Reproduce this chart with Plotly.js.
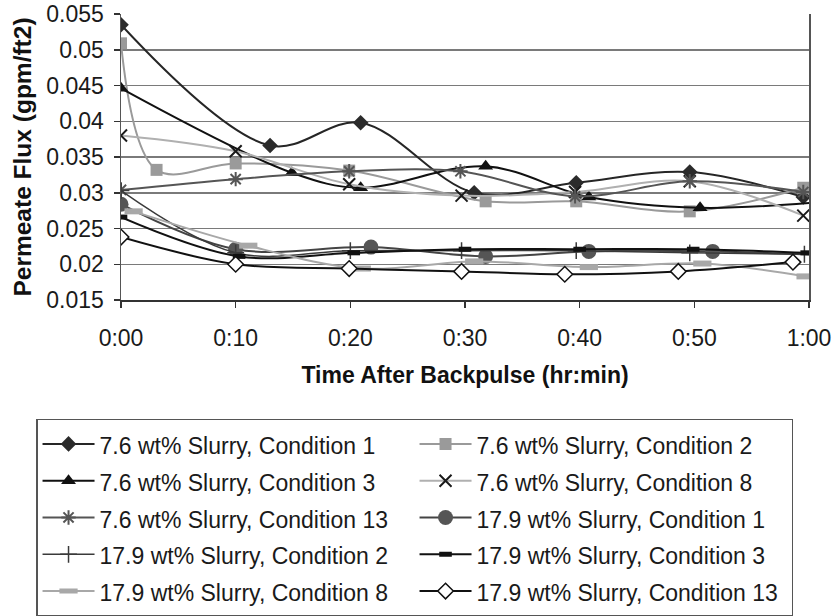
<!DOCTYPE html>
<html>
<head>
<meta charset="utf-8">
<script src="https://cdn.plot.ly/plotly-3.0.1.min.js"></script>
<style>html,body{margin:0;padding:0;background:#fff;}#chart{width:837px;height:616px;}</style>
</head>
<body>
<div id="chart"></div>
<script>
// ---- data (minutes after backpulse, flux gpm/ft2) ----
const xTickVals = [0, 10, 20, 30, 40, 50, 60];
const xTickText = ['0:00', '0:10', '0:20', '0:30', '0:40', '0:50', '1:00'];
const yTickVals = [0.015, 0.02, 0.025, 0.03, 0.035, 0.04, 0.045, 0.05, 0.055];
const yTickText = ['0.015', '0.02', '0.025', '0.03', '0.035', '0.04', '0.045', '0.05', '0.055'];

const names = [
  '7.6 wt% Slurry, Condition 1', '7.6 wt% Slurry, Condition 2',
  '7.6 wt% Slurry, Condition 3', '7.6 wt% Slurry, Condition 8',
  '7.6 wt% Slurry, Condition 13', '17.9 wt% Slurry, Condition 1',
  '17.9 wt% Slurry, Condition 2', '17.9 wt% Slurry, Condition 3',
  '17.9 wt% Slurry, Condition 8', '17.9 wt% Slurry, Condition 13'
];

const t76c1 = [0, 13.0, 20.9, 30.8, 39.7, 49.6, 59.5];
const v76c1 = [0.0535, 0.0366, 0.0398, 0.0300, 0.0314, 0.0329, 0.0294];

const t76c2 = [0, 3.1, 10.0, 19.9, 31.8, 39.7, 49.6, 59.5];
const v76c2 = [0.0509, 0.0332, 0.0341, 0.0331, 0.0288, 0.0288, 0.0274, 0.0307];

const t76c3 = [0, 14.9, 20.9, 31.8, 40.8, 50.5, 61.0];
const v76c3 = [0.0446, 0.0328, 0.0307, 0.0337, 0.0294, 0.0279, 0.0287];

const t76c8 = [0, 10.0, 19.9, 29.7, 39.6, 49.6, 59.5];
const v76c8 = [0.0380, 0.0358, 0.0312, 0.0296, 0.0301, 0.0316, 0.0268];

const t76c13 = [0, 10.0, 19.9, 29.6, 39.6, 49.6, 59.5];
const v76c13 = [0.0304, 0.0319, 0.0330, 0.0330, 0.0295, 0.0316, 0.0301];

const t179c1 = [0, 10.0, 21.8, 31.8, 40.8, 51.6, 61.0];
const v179c1 = [0.0284, 0.0221, 0.0224, 0.0211, 0.0218, 0.0218, 0.0213];

const t179c2 = [0, 10.0, 20.0, 29.7, 39.7, 49.6, 59.6];
const v179c2 = [0.0303, 0.0216, 0.0219, 0.0219, 0.0219, 0.0216, 0.0214];

const t179c3 = [0, 10.3, 20.3, 30.0, 40.0, 49.9, 59.8];
const v179c3 = [0.0266, 0.0211, 0.0216, 0.0221, 0.0221, 0.0221, 0.0216];

const t179c8 = [1.1, 11.1, 21.0, 30.8, 40.8, 50.7, 59.7];
const v179c8 = [0.0274, 0.0226, 0.0194, 0.0204, 0.0196, 0.0201, 0.0183];

const t179c13 = [0, 10.0, 19.9, 29.7, 38.7, 48.6, 58.6];
const v179c13 = [0.0238, 0.0200, 0.0194, 0.0190, 0.0186, 0.0190, 0.0203];

const xs = [t76c1, t76c2, t76c3, t76c8, t76c13, t179c1, t179c2, t179c3, t179c8, t179c13];
const ys = [v76c1, v76c2, v76c3, v76c8, v76c13, v179c1, v179c2, v179c3, v179c8, v179c13];

// ---- styles ----
const styles = [
  {lc: '#262626', lw: 2, m: {symbol: 'diamond', size: 12, color: '#2b2b2b'}},
  {lc: '#9a9a9a', lw: 2, m: {symbol: 'square', size: 12, color: '#9a9a9a'}},
  {lc: '#111111', lw: 2, m: {symbol: 'triangle-up', size: 13, color: '#111111'}},
  {lc: '#b0b0b0', lw: 2, m: {symbol: 'x-thin-open', size: 12, color: '#1a1a1a', line: {color: '#1a1a1a', width: 2}}},
  {lc: '#555555', lw: 2, m: {symbol: 'asterisk-open', size: 12, color: '#555555', line: {color: '#555555', width: 2}}},
  {lc: '#444444', lw: 2, m: {symbol: 'circle', size: 15, color: '#555555'}},
  {lc: '#3a3a3a', lw: 1.5, m: {symbol: 'cross-thin-open', size: 12, color: '#3a3a3a', line: {color: '#3a3a3a', width: 1.5}}},
  {lc: '#111111', lw: 2, m: {symbol: 'line-ew-open', size: 9, color: '#111111', line: {color: '#111111', width: 5}}},
  {lc: '#a8a8a8', lw: 2, m: {symbol: 'line-ew-open', size: 13, color: '#a8a8a8', line: {color: '#a8a8a8', width: 6}}},
  {lc: '#111111', lw: 2, m: {symbol: 'diamond', size: 12, color: '#ffffff', line: {color: '#111111', width: 1.5}}}
];

const traces = names.map((nm, i) => ({
  type: 'scatter',
  mode: 'lines+markers',
  name: '<span style="font-size:23px">' + nm + '</span>',
  x: xs[i],
  y: ys[i],
  line: {color: styles[i].lc, width: styles[i].lw, shape: 'spline', smoothing: 1},
  marker: styles[i].m,
  cliponaxis: true
}));

const font = 'Liberation Sans, Arial, sans-serif';

const layout = {
  width: 837,
  height: 616,
  margin: {l: 121, r: 28, t: 14, b: 316, autoexpand: false},
  paper_bgcolor: '#ffffff',
  plot_bgcolor: '#ffffff',
  font: {family: font, color: '#1a1a1a'},
  showlegend: true,
  xaxis: {
    range: [0, 60],
    tickvals: xTickVals,
    ticktext: xTickText,
    ticks: 'outside',
    ticklen: 6,
    tickwidth: 1.5,
    tickcolor: '#333',
    ticklabelstandoff: 11,
    showgrid: false,
    zeroline: false,
    showline: true,
    linecolor: '#333',
    linewidth: 1.5,
    tickfont: {family: font, size: 23, color: '#1a1a1a'},
    title: {text: '<b>Time After Backpulse (hr:min)</b>', font: {family: font, size: 23, color: '#111'}, standoff: 17}
  },
  yaxis: {
    range: [0.015, 0.055],
    tickvals: yTickVals,
    ticktext: yTickText,
    ticks: 'outside',
    ticklen: 6,
    tickwidth: 1.5,
    tickcolor: '#333',
    ticklabelstandoff: 5,
    showgrid: true,
    gridcolor: '#7a7a7a',
    gridwidth: 1.5,
    zeroline: false,
    showline: true,
    linecolor: '#555',
    linewidth: 1.5,
    mirror: true,
    tickfont: {family: font, size: 23, color: '#1a1a1a'},
    title: {text: '<b>Permeate Flux (gpm/ft2)</b>', font: {family: font, size: 24.5, color: '#111'}, standoff: 8}
  },
  legend: {
    orientation: 'h',
    x: -0.1235,
    y: -0.416,
    xanchor: 'left',
    yanchor: 'top',
    entrywidth: 310,
    entrywidthmode: 'pixels',
    itemwidth: 52,
    traceorder: 'normal',
    bgcolor: '#ffffff',
    bordercolor: '#555',
    borderwidth: 1.5,
    font: {family: font, size: 26, color: '#1a1a1a'}
  }
};

Plotly.newPlot('chart', traces, layout, {displayModeBar: false, staticPlot: true});
</script>
</body>
</html>
